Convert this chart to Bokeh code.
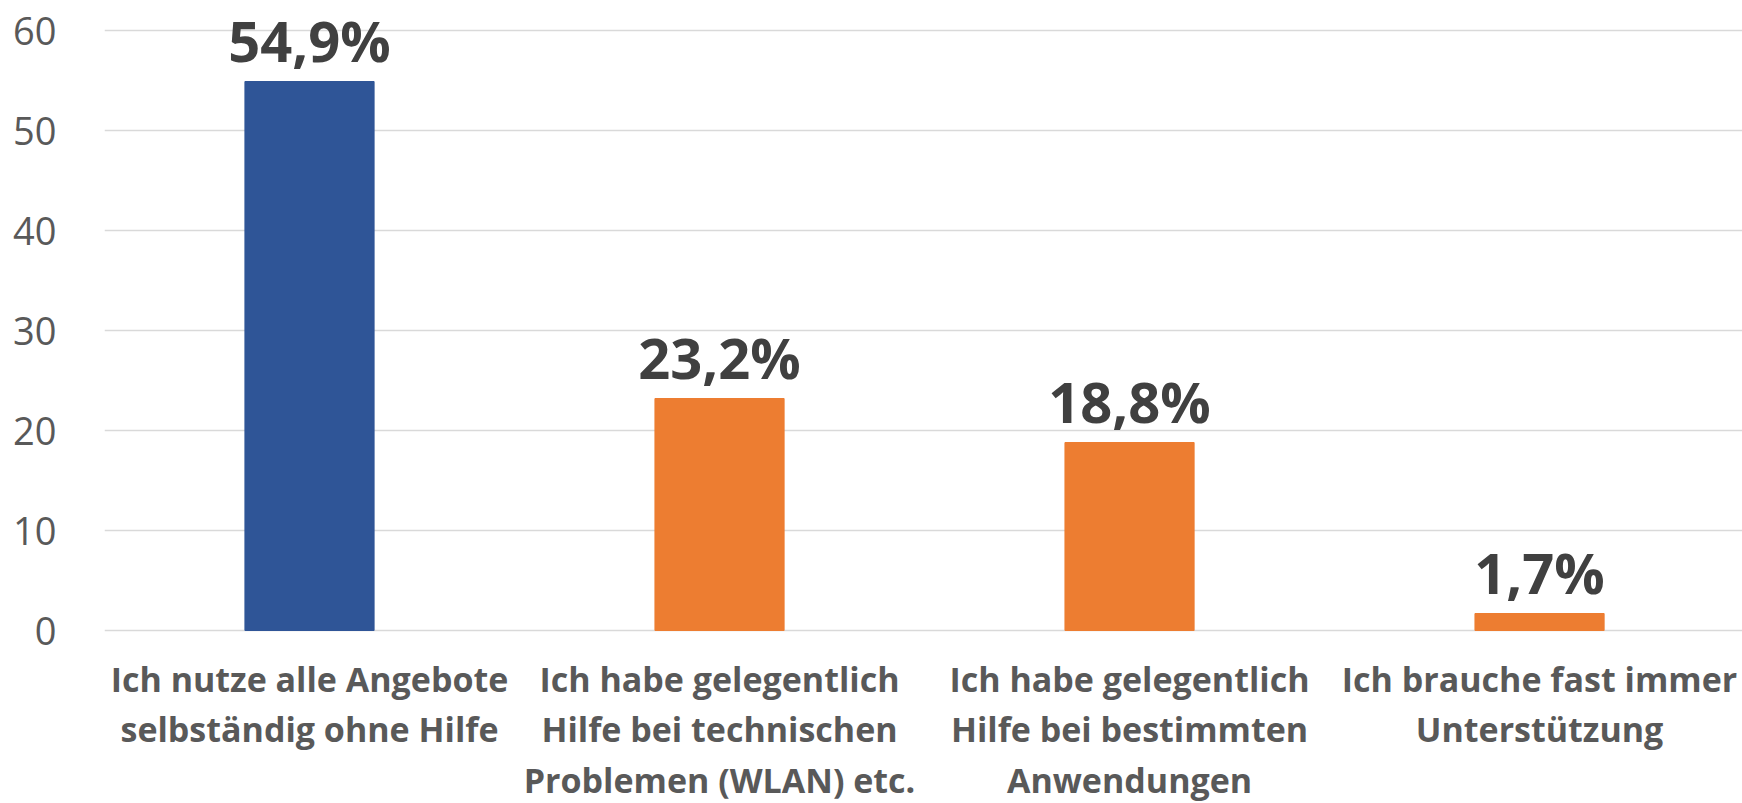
from bokeh.plotting import figure
from bokeh.models import Range1d, FixedTicker, ColumnDataSource
from bokeh.core.properties import value
from bokeh.embed import file_html
from bokeh.resources import INLINE

categories = [
    "Ich nutze alle Angebote\nselbständig ohne Hilfe",
    "Ich habe gelegentlich\nHilfe bei technischen\nProblemen (WLAN) etc.",
    "Ich habe gelegentlich\nHilfe bei bestimmten\nAnwendungen",
    "Ich brauche fast immer\nUnterstützung",
]
values = [54.9, 23.2, 18.8, 1.7]
value_labels = ["54,9%", "23,2%", "18,8%", "1,7%"]
colors = ["#2F5597", "#ED7D31", "#ED7D31", "#ED7D31"]
y_ticks = [0, 10, 20, 30, 40, 50, 60]

xs = list(range(len(categories)))
src = ColumnDataSource(dict(x=xs, top=values, color=colors, lab=value_labels,
                            cat=categories, zero=[0] * len(xs)))

p = figure(width=1742, height=803, output_backend="svg", toolbar_location=None,
           x_range=Range1d(-0.5, 3.495), y_range=Range1d(-17.3, 63.0),
           min_border_left=104, min_border_right=0, min_border_top=0, min_border_bottom=0,
           x_axis_location=None)
p.outline_line_color = None
p.background_fill_color = "white"
p.border_fill_color = "white"

p.vbar(x="x", top="top", bottom=0, width=0.315, color="color", source=src)

p.text(x="x", y="top", text="lab", source=src, text_align="center",
       text_baseline="bottom", y_offset=-4, text_color="#404040",
       text_font=value("Open Sans"), text_font_style="bold", text_font_size="56px")

p.text(x="x", y="zero", text="cat", source=src, text_align="center",
       text_baseline="top", y_offset=25, text_color="#595959",
       text_font=value("Open Sans"), text_font_style="bold", text_font_size="34px",
       text_line_height=1.1)

p.xgrid.visible = False
p.ygrid.ticker = FixedTicker(ticks=y_ticks)
p.ygrid.grid_line_color = "#D9D9D9"
p.ygrid.grid_line_width = 1.5

ax = p.yaxis[0]
ax.ticker = FixedTicker(ticks=y_ticks)
ax.axis_line_color = None
ax.major_tick_line_color = None
ax.minor_tick_line_color = None
ax.major_tick_out = 0
ax.major_tick_in = 0
ax.major_label_standoff = 48
ax.major_label_text_font = "Open Sans"
ax.major_label_text_font_size = "38px"
ax.major_label_text_color = "#595959"

open("out.html", "w").write(file_html(p, INLINE))
